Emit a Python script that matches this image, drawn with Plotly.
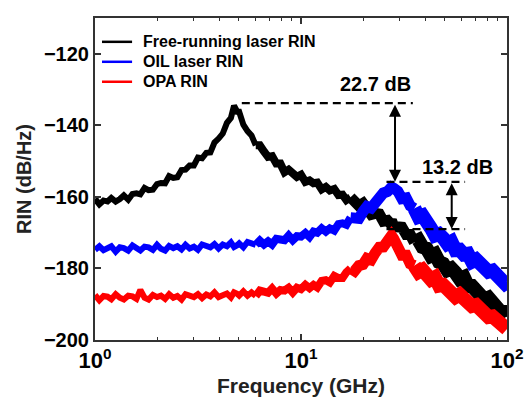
import math
import plotly.graph_objects as go

# ---------------- data ----------------
FREQ_GHZ = [1.00, 1.05, 1.10, 1.15, 1.20, 1.26, 1.32, 1.38, 1.45, 1.52,
            1.59, 1.66, 1.74, 1.82, 1.91, 2.00, 2.09, 2.19, 2.29, 2.40,
            2.51, 2.63, 2.75, 2.88, 3.02, 3.16, 3.31, 3.47, 3.63, 3.80,
            3.98, 4.17, 4.37, 4.57, 4.73, 4.90, 5.01, 5.25, 5.50, 5.75,
            6.03, 6.31, 6.61, 6.92, 7.24, 7.59, 7.94, 8.32, 8.71, 9.12,
            9.55, 10.0, 10.5, 11.0, 11.5, 12.0, 12.6, 13.2, 13.8, 14.5,
            15.2, 15.9, 16.6, 17.4, 18.2, 19.1, 20.0, 20.9, 21.9, 22.9,
            24.0, 25.1, 26.3, 27.0, 27.5, 28.2, 29.5, 30.9, 32.4, 33.9,
            35.5, 37.2, 38.9, 40.7, 42.7, 44.7, 46.8, 49.0, 51.3, 53.7,
            56.2, 58.9, 61.7, 64.6, 67.6, 70.8, 74.1, 77.6, 81.3, 85.1,
            89.1, 93.3, 97.7, 100.0]

RIN_FREE = [-160.5, -162.1, -161.0, -161.3, -160.3, -161.3, -160.6, -159.6, -160.8, -159.2,
            -159.0, -159.3, -157.5, -158.1, -158.0, -156.4, -156.1, -156.2, -154.2, -154.7,
            -154.5, -152.5, -152.4, -151.2, -151.2, -149.0, -149.2, -147.7, -147.6, -144.8,
            -143.7, -142.3, -139.3, -137.9, -134.5, -136.2, -136.2, -139.8, -141.6, -142.8,
            -145.6, -145.6, -147.3, -148.8, -148.6, -150.7, -150.7, -153.1, -152.4, -153.4,
            -154.4, -153.8, -155.8, -155.4, -156.2, -156.0, -157.9, -157.2, -158.2, -157.8,
            -159.5, -159.4, -160.9, -160.1, -160.9, -162.5, -161.8, -163.6, -164.9, -164.6,
            -164.8, -166.8, -166.6, -167.3, -166.6, -168.3, -168.1, -168.5, -170.5, -170.5,
            -172.7, -172.1, -174.0, -174.4, -176.5, -176.0, -178.2, -178.7, -180.5, -180.0,
            -181.2, -182.9, -182.4, -184.9, -184.9, -186.3, -186.3, -188.7, -188.2, -189.7,
            -189.9, -192.2, -192.2, -193.5]

RIN_OIL = [-174.8, -173.8, -174.9, -174.5, -173.8, -175.3, -174.1, -174.3, -175.0, -173.6,
           -174.5, -175.0, -173.9, -174.1, -174.8, -173.4, -174.5, -175.0, -173.7, -174.3,
           -173.8, -174.7, -173.4, -174.4, -173.9, -174.8, -173.3, -173.6, -174.1, -173.2,
           -174.4, -173.3, -173.8, -172.7, -174.0, -173.5, -173.0, -174.1, -172.6, -173.0,
           -173.4, -172.2, -173.3, -172.4, -173.3, -171.7, -171.9, -172.1, -170.8, -172.1,
           -171.0, -171.1, -170.1, -171.2, -169.7, -170.0, -168.8, -169.7, -168.8, -169.4,
           -167.6, -167.4, -167.8, -165.8, -166.2, -166.0, -164.1, -162.7, -163.1, -161.3,
           -160.6, -158.9, -158.5, -157.6, -157.3, -157.6, -158.4, -160.5, -160.3, -162.5,
           -163.2, -165.6, -165.2, -167.9, -168.7, -170.8, -170.4, -171.5, -173.1, -172.5,
           -174.9, -174.8, -176.1, -175.9, -178.1, -177.5, -178.8, -178.8, -180.9, -180.6,
           -182.0, -182.1, -184.2, -183.8]

RIN_OPA = [-187.4, -188.9, -187.7, -187.9, -188.6, -187.2, -188.2, -188.7, -187.6, -187.8,
           -188.5, -186.0, -188.2, -188.7, -187.4, -188.0, -187.6, -188.5, -187.2, -188.2,
           -187.7, -188.7, -187.2, -187.5, -188.0, -187.2, -188.3, -187.3, -187.8, -186.7,
           -188.0, -187.5, -187.0, -188.1, -186.7, -187.1, -187.6, -186.4, -187.6, -186.7,
           -187.7, -186.2, -186.5, -186.8, -185.6, -187.0, -186.0, -186.2, -185.4, -186.7,
           -185.4, -185.8, -184.6, -185.5, -184.6, -185.3, -183.5, -183.3, -183.9, -182.1,
           -182.7, -182.7, -181.1, -180.0, -180.7, -179.2, -178.9, -177.2, -177.6, -175.7,
           -174.1, -174.0, -172.0, -170.6, -170.8, -171.7, -173.4, -176.3, -176.3, -178.7,
           -179.2, -181.0, -180.4, -181.5, -183.1, -182.5, -184.8, -184.6, -185.9, -185.8,
           -188.0, -187.3, -188.6, -188.5, -190.5, -190.2, -191.5, -191.5, -193.6, -193.4,
           -194.7, -194.6, -196.8, -196.9]

SERIES_NAMES = ["Free-running laser RIN", "OIL laser RIN", "OPA RIN"]
SERIES_COLORS = ["#000000", "#0000ff", "#ff0000"]

X_TICK_VALS = [1, 10, 100]
X_TICK_TEXT = ["10<sup>0</sup>", "10<sup>1</sup>", "10<sup>2</sup>"]
X_MINOR_VALS = [2, 3, 4, 5, 6, 7, 8, 9, 20, 30, 40, 50, 60, 70, 80, 90]
Y_TICK_VALS = [-200, -180, -160, -140, -120]

# annotation: guide lines (frequency GHz, RIN dB/Hz)
GUIDE1_F = [5.16, 34.9]
GUIDE1_RIN = -133.8
GUIDE2_F = [26.0, 62.6]
GUIDE2_UPPER = -155.8
GUIDE2_LOWER = -169.0
ARROW1_F = 28.6
ARROW1_RIN = [-133.8, -155.8]
ARROW2_F = 53.9
ARROW2_RIN = [-155.8, -169.0]
LABEL1 = ("22.7 dB", 23.0, -128.5)
LABEL2 = ("13.2 dB", 57.6, -151.6)

# ---------------- figure ----------------
FONT = "Liberation Sans"
fig = go.Figure()

# noise band gets visually thicker towards high frequency (denser samples):
# draw each curve in overlapping pieces with growing line width
PIECES = [(0, 41, 6), (40, 64, 8), (63, 81, 11), (80, len(FREQ_GHZ), 14)]
for name, vals, col in zip(SERIES_NAMES, [RIN_FREE, RIN_OIL, RIN_OPA], SERIES_COLORS):
    for i0, i1, w in PIECES:
        fig.add_trace(go.Scatter(x=FREQ_GHZ[i0:i1], y=vals[i0:i1], mode="lines",
                                 name=name, line=dict(color=col, width=w),
                                 showlegend=False, hoverinfo="skip"))

dash = "8px,5px"
for f_pair, r in [(GUIDE1_F, GUIDE1_RIN), (GUIDE2_F, GUIDE2_UPPER), (GUIDE2_F, GUIDE2_LOWER)]:
    fig.add_trace(go.Scatter(x=f_pair, y=[r, r], mode="lines", showlegend=False,
                             line=dict(color="black", width=2.2, dash=dash),
                             hoverinfo="skip"))

for f, rr in [(ARROW1_F, ARROW1_RIN), (ARROW2_F, ARROW2_RIN)]:
    fig.add_annotation(x=math.log10(f), y=rr[1], ax=math.log10(f), ay=rr[0],
                       xref="x", yref="y", axref="x", ayref="y", text="",
                       showarrow=True, arrowhead=2, arrowside="end+start",
                       arrowsize=1.2, arrowwidth=2, arrowcolor="black",
                       standoff=0, startstandoff=0)

for txt, f, r in [LABEL1, LABEL2]:
    fig.add_annotation(x=math.log10(f), y=r, xref="x", yref="y", text=txt,
                       showarrow=False,
                       font=dict(family=FONT, size=20, color="black", weight="bold"))

# legend box (upper-left, inside the axes)
LEG_Y = [0.926, 0.864, 0.802]
for name, col, ly in zip(SERIES_NAMES, SERIES_COLORS, LEG_Y):
    fig.add_shape(type="line", xref="paper", yref="paper",
                  x0=0.017, x1=0.090, y0=ly, y1=ly,
                  line=dict(color=col, width=2.5))
    fig.add_annotation(x=0.111, y=ly, xref="paper", yref="paper", text=name,
                       xanchor="left", yanchor="middle", showarrow=False,
                       font=dict(family=FONT, size=16, color="black", weight="bold"))

fig.update_layout(
    width=524, height=395,
    margin=dict(l=87, r=16, t=8, b=63),
    paper_bgcolor="white", plot_bgcolor="white",
    font=dict(family=FONT, color="black", weight="bold"),
    showlegend=False,
)

fig.update_xaxes(type="log", range=[0, 2],
                 tickvals=X_TICK_VALS, ticktext=X_TICK_TEXT,
                 ticklabeloverflow="allow",
                 ticks="inside", ticklen=6, tickwidth=1.5, tickcolor="#333",
                 minor=dict(tickvals=X_MINOR_VALS, ticks="inside", ticklen=3,
                            tickwidth=1.2, tickcolor="#333"),
                 showline=True, linecolor="#333", linewidth=2, mirror="allticks",
                 showgrid=False, zeroline=False,
                 tickfont=dict(family=FONT, size=22, color="black", weight="bold"),
                 title=dict(text="Frequency (GHz)", standoff=6,
                            font=dict(family=FONT, size=21, color="#222", weight="bold")))
fig.update_yaxes(range=[-200, -110], tickvals=Y_TICK_VALS,
                 ticks="inside", ticklen=6, tickwidth=1.5, tickcolor="#333",
                 showline=True, linecolor="#333", linewidth=2, mirror="allticks",
                 showgrid=False, zeroline=False,
                 tickfont=dict(family=FONT, size=20, color="black", weight="bold"),
                 title=dict(text="RIN (dB/Hz)", standoff=7,
                            font=dict(family=FONT, size=20, color="#222", weight="bold")))

fig.write_html("out.html")
